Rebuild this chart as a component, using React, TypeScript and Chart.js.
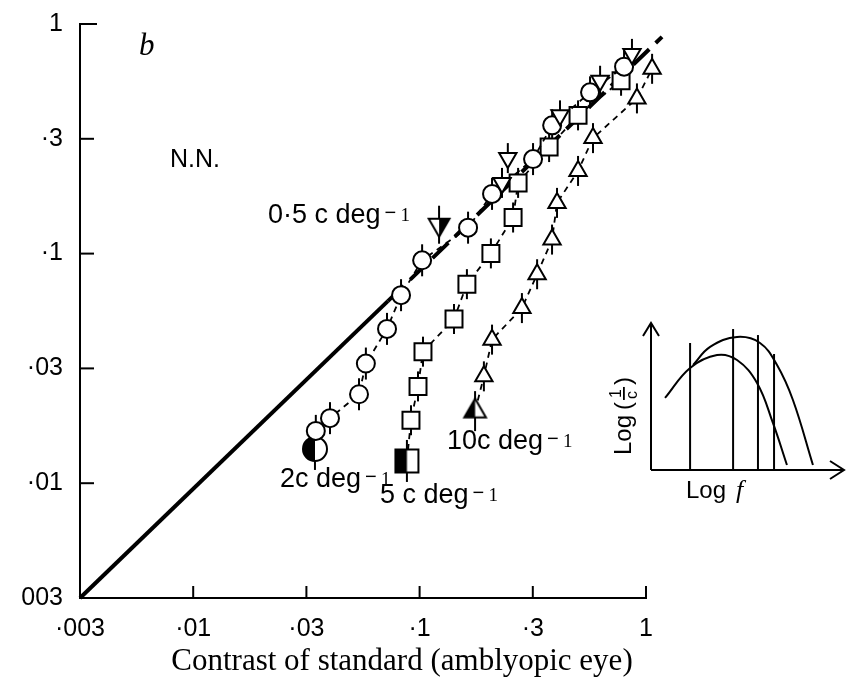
import React, { useEffect, useRef } from 'react';
import { Chart, registerables } from 'chart.js';

Chart.register(...registerables);

// ---------- axes (ticks are evenly spaced half-decades in the original) ----------
const tickValues = [0.0031623, 0.01, 0.031623, 0.1, 0.31623, 1];
const xTickLabels = ['·003', '·01', '·03', '·1', '·3', '1'];
const yTickLabels = ['003', '·01', '·03', '·1', '·3', '1'];
const xAxisTitle = 'Contrast of standard (amblyopic eye)';

// ---------- data ----------
// 2 c deg-1 (circles); first point = half-filled marker
const c2X = [0.0345, 0.0348, 0.0402, 0.054, 0.0579, 0.0718, 0.0828, 0.1026, 0.1637, 0.2089, 0.317, 0.385, 0.566, 0.8];
const c2Y = [0.0141, 0.0169, 0.0192, 0.0244, 0.0332, 0.047, 0.0659, 0.0935, 0.1297, 0.182, 0.258, 0.362, 0.504, 0.652];
// 5 c deg-1 (squares)
const c5X = [0.0879, 0.0916, 0.0984, 0.1035, 0.1419, 0.1618, 0.2065, 0.2588, 0.2723, 0.3733, 0.501, 0.776];
const c5Y = [0.0125, 0.0188, 0.0264, 0.0374, 0.0519, 0.0736, 0.1002, 0.1436, 0.2032, 0.2911, 0.4, 0.566];
// 10 c deg-1 (up triangles)
const c10X = [0.1758, 0.1923, 0.2089, 0.2831, 0.3304, 0.3846, 0.4046, 0.501, 0.5834, 0.912, 1.064];
const c10Y = [0.0206, 0.0292, 0.0422, 0.0579, 0.0813, 0.1151, 0.1663, 0.2291, 0.3184, 0.4742, 0.638];
// 0.5 c deg-1 (down triangles)
const c05X = [0.1219, 0.2312, 0.2453, 0.417, 0.627, 0.867];
const c05Y = [0.1336, 0.2032, 0.2606, 0.4, 0.566, 0.741];
// thick matching line (solid part then broken part)
const matchX = [0.0031623, 0.0724, 1.177];
const matchY = [0.0031623, 0.0621, 0.879];

// ---------- inset schematic ----------
const insetLowX = [0.75, 2.09, 3.53, 4.6, 5.67, 6.52, 7.27];
const insetLowY = [4.9, 6.94, 7.82, 7.48, 5.92, 3.2, 0.34];
const insetHighX = [2.25, 3.16, 4.6, 5.83, 6.74, 7.59, 8.66];
const insetHighY = [7.14, 8.37, 9.05, 8.64, 7.14, 4.76, 0.34];
const insetBarX = [2.09, 4.39, 5.72, 6.58];
const insetBarTop = [8.64, 9.59, 9.18, 7.89];

const SANS = '"Liberation Sans", Arial, sans-serif';
const SERIF = '"Liberation Serif", "Times New Roman", serif';

const pts = (xs: number[], ys: number[]) => xs.map((x, i) => ({ x, y: ys[i] }));

function makeMarker(shape: 'circle' | 'square' | 'up', size: number) {
  const pad = 3;
  const s = Math.ceil(size * 2 + pad * 2);
  const c = document.createElement('canvas');
  c.width = s;
  c.height = s;
  const g = c.getContext('2d')!;
  const cx = s / 2;
  const cy = s / 2;
  const path = () => {
    g.beginPath();
    if (shape === 'circle') g.arc(cx, cy, size, 0, Math.PI * 2);
    else if (shape === 'square') g.rect(cx - size, cy - size, size * 2, size * 2);
    else {
      const h = Math.sin((2 * Math.PI) / 3) * size;
      g.moveTo(cx, cy - size);
      g.lineTo(cx + h, cy + size / 2);
      g.lineTo(cx - h, cy + size / 2);
      g.closePath();
    }
  };
  path();
  g.fillStyle = '#fff';
  g.fill();
  g.save();
  path();
  g.clip();
  g.fillStyle = '#000';
  g.fillRect(0, 0, cx, s);
  g.restore();
  path();
  g.lineWidth = 2;
  g.strokeStyle = '#000';
  g.stroke();
  return c;
}

const errorBarPlugin = {
  id: 'errorBars',
  beforeDatasetsDraw(chart: any) {
    const ctx = chart.ctx;
    chart.data.datasets.forEach((ds: any, i: number) => {
      if (!ds.errLen) return;
      const meta = chart.getDatasetMeta(i);
      ctx.save();
      ctx.strokeStyle = '#000';
      ctx.lineWidth = 2;
      meta.data.forEach((p: any, j: number) => {
        const len = j === 0 && ds.errLenFirst ? ds.errLenFirst : ds.errLen;
        ctx.beginPath();
        ctx.moveTo(p.x, p.y - len);
        ctx.lineTo(p.x, p.y + len);
        ctx.stroke();
      });
      ctx.restore();
    });
  },
};

const axisTickPlugin = {
  id: 'inwardTicks',
  afterDraw(chart: any) {
    const ctx = chart.ctx;
    const { left, bottom } = chart.chartArea;
    const xs = chart.scales.x;
    const ys = chart.scales.y;
    ctx.save();
    ctx.strokeStyle = '#000';
    ctx.lineWidth = 2;
    tickValues.forEach((v) => {
      const px = xs.getPixelForValue(v);
      ctx.beginPath();
      ctx.moveTo(px, bottom);
      ctx.lineTo(px, bottom - 12);
      ctx.stroke();
      const py = ys.getPixelForValue(v);
      ctx.beginPath();
      ctx.moveTo(left, py);
      ctx.lineTo(left + (v === 1 ? 17 : 14), py);
      ctx.stroke();
    });
    ctx.restore();
  },
};

function drawDeg(ctx: CanvasRenderingContext2D, main: string, x: number, y: number) {
  ctx.font = `27px ${SANS}`;
  ctx.fillText(main, x, y);
  const w = ctx.measureText(main).width;
  ctx.font = `20px ${SANS}`;
  ctx.fillText('−', x + w + 4, y - 4);
  ctx.font = `19px ${SERIF}`;
  ctx.fillText('1', x + w + 20, y - 2);
}

const annotationPlugin = {
  id: 'annotations',
  afterDraw(chart: any) {
    const ctx: CanvasRenderingContext2D = chart.ctx;
    ctx.save();
    ctx.fillStyle = '#000';
    ctx.textAlign = 'left';
    ctx.textBaseline = 'alphabetic';
    ctx.font = `italic 31px ${SERIF}`;
    ctx.fillText('b', 139, 55);
    ctx.font = `25px ${SANS}`;
    ctx.fillText('N.N.', 170, 167);
    drawDeg(ctx, '0·5 c deg', 268, 223);
    drawDeg(ctx, '2c deg', 280, 487);
    drawDeg(ctx, '5 c deg', 380, 503);
    drawDeg(ctx, '10c deg', 447, 449);
    ctx.textAlign = 'center';
    ctx.font = `31px ${SERIF}`;
    ctx.fillText(xAxisTitle, 402, 670);
    ctx.restore();
  },
};

const insetPlugin = {
  id: 'insetDecor',
  afterDraw(chart: any) {
    const ctx: CanvasRenderingContext2D = chart.ctx;
    const { left, right, top, bottom } = chart.chartArea;
    ctx.save();
    ctx.strokeStyle = '#000';
    ctx.fillStyle = '#000';
    ctx.lineWidth = 2;
    ctx.lineJoin = 'miter';
    // vertical arrow
    ctx.beginPath();
    ctx.moveTo(left, bottom);
    ctx.lineTo(left, top);
    ctx.moveTo(left - 8, top + 13);
    ctx.lineTo(left, top);
    ctx.lineTo(left + 8, top + 13);
    ctx.stroke();
    // horizontal arrow
    ctx.beginPath();
    ctx.moveTo(left, bottom);
    ctx.lineTo(right + 6, bottom);
    ctx.moveTo(right - 8, bottom - 9);
    ctx.lineTo(right + 6, bottom);
    ctx.lineTo(right - 8, bottom + 9);
    ctx.stroke();
    // Log f
    ctx.textBaseline = 'alphabetic';
    ctx.textAlign = 'left';
    ctx.font = `24px ${SANS}`;
    ctx.fillText('Log', 86, 198);
    ctx.font = `italic 26px ${SERIF}`;
    ctx.fillText('f', 136, 198);
    // Log (1/c) rotated
    ctx.translate(31, 155);
    ctx.rotate(-Math.PI / 2);
    ctx.font = `24px ${SANS}`;
    ctx.fillText('Log', 0, 0);
    let w = ctx.measureText('Log').width + 5;
    ctx.fillText('(', w, 0);
    w += ctx.measureText('(').width + 2;
    ctx.font = `16px ${SANS}`;
    ctx.fillText('1', w + 2, -10);
    ctx.fillRect(w, -8, 13, 1.8);
    ctx.fillText('c', w + 1, 6);
    w += 15;
    ctx.font = `24px ${SANS}`;
    ctx.fillText(')', w, 0);
    ctx.restore();
  },
};

export default function App() {
  const mainRef = useRef<HTMLCanvasElement>(null);
  const insetRef = useRef<HTMLCanvasElement>(null);

  useEffect(() => {
    const halfCircle = makeMarker('circle', 12);
    const halfSquare = makeMarker('square', 11.5);
    const halfUp = makeMarker('up', 12.5);
    const halfDown = makeMarker('up', 12);
    // rotate a copy for the filled down-triangle
    const down = document.createElement('canvas');
    down.width = halfDown.width;
    down.height = halfDown.height;
    const dg = down.getContext('2d')!;
    dg.translate(down.width, down.height);
    dg.rotate(Math.PI);
    dg.drawImage(halfDown, 0, 0);

    const tickFont = { family: SANS, size: 25 };
    const common = {
      borderColor: '#000',
      pointBorderColor: '#000',
      pointBackgroundColor: '#fff',
      pointBorderWidth: 2,
      clip: false as any,
      order: 1,
    };

    const main = new Chart(mainRef.current!, {
      type: 'line',
      data: {
        datasets: [
          {
            label: 'equal contrast',
            data: pts(matchX.slice(0, 2), matchY.slice(0, 2)),
            borderColor: '#000',
            borderWidth: 4,
            pointRadius: 0,
            clip: false as any,
            order: 9,
          },
          {
            label: 'equal contrast (broken)',
            data: pts(matchX.slice(1), matchY.slice(1)),
            borderColor: '#000',
            borderWidth: 4,
            borderDash: [22, 9],
            pointRadius: 0,
            clip: false as any,
            order: 9,
          },
          {
            ...common,
            label: '0·5 c deg⁻¹',
            data: pts(c05X, c05Y),
            showLine: false,
            pointStyle: (c: any) => (c.dataIndex === 0 ? down : 'triangle'),
            pointRotation: (c: any) => (c.dataIndex === 0 ? 0 : 180),
            pointRadius: 10,
            errLen: 15,
            errLenFirst: 19,
          } as any,
          {
            ...common,
            label: '2 c deg⁻¹',
            data: pts(c2X, c2Y),
            borderWidth: 1.8,
            borderDash: [6, 5],
            pointStyle: (c: any) => (c.dataIndex === 0 ? halfCircle : 'circle'),
            pointRadius: 9,
            errLen: 16,
            errLenFirst: 21,
          } as any,
          {
            ...common,
            label: '5 c deg⁻¹',
            data: pts(c5X, c5Y),
            borderWidth: 1.8,
            borderDash: [6, 5],
            pointStyle: (c: any) => (c.dataIndex === 0 ? halfSquare : 'rect'),
            pointRadius: 12,
            errLen: 15,
            errLenFirst: 21,
          } as any,
          {
            ...common,
            label: '10 c deg⁻¹',
            data: pts(c10X, c10Y),
            borderWidth: 1.8,
            borderDash: [6, 5],
            pointStyle: (c: any) => (c.dataIndex === 0 ? halfUp : 'triangle'),
            pointRadius: 10,
            errLen: 15,
            errLenFirst: 20,
          } as any,
        ],
      },
      options: {
        responsive: false,
        animation: false,
        layout: { padding: { top: 20, right: 201, left: 0, bottom: 0 } },
        plugins: { legend: { display: false }, tooltip: { enabled: false } },
        scales: {
          x: {
            type: 'logarithmic',
            min: tickValues[0],
            max: 1,
            afterBuildTicks: (s: any) => {
              s.ticks = tickValues.map((v) => ({ value: v }));
            },
            afterFit: (s: any) => {
              s.height = 86;
            },
            ticks: {
              autoSkip: false,
              maxRotation: 0,
              padding: 8,
              color: '#000',
              font: tickFont,
              callback: (_v: any, i: number) => xTickLabels[i],
            },
            grid: { display: false },
            border: { display: true, color: '#000', width: 2 },
          },
          y: {
            type: 'logarithmic',
            min: tickValues[0],
            max: 1,
            afterBuildTicks: (s: any) => {
              s.ticks = tickValues.map((v) => ({ value: v }));
            },
            afterFit: (s: any) => {
              s.width = 80;
            },
            ticks: {
              autoSkip: false,
              padding: 9,
              color: '#000',
              font: tickFont,
              callback: (_v: any, i: number) => yTickLabels[i],
            },
            grid: { display: false },
            border: { display: true, color: '#000', width: 2 },
          },
        },
      } as any,
      plugins: [errorBarPlugin, axisTickPlugin, annotationPlugin],
    });

    const insetLine = {
      borderColor: '#000',
      borderWidth: 2,
      pointRadius: 0,
      clip: false as any,
    };
    const inset = new Chart(insetRef.current!, {
      type: 'line',
      data: {
        datasets: [
          { ...insetLine, label: 'low', data: pts(insetLowX, insetLowY), tension: 0.4 },
          { ...insetLine, label: 'high', data: pts(insetHighX, insetHighY), tension: 0.4 },
          ...insetBarX.map((bx, i) => ({
            ...insetLine,
            label: 'f' + i,
            data: [
              { x: bx, y: 0 },
              { x: bx, y: insetBarTop[i] },
            ],
            tension: 0,
          })),
        ],
      },
      options: {
        responsive: false,
        animation: false,
        layout: { padding: { left: 51, top: 23, right: 9, bottom: 40 } },
        plugins: { legend: { display: false }, tooltip: { enabled: false } },
        scales: {
          x: { type: 'linear', min: 0, max: 10, display: false },
          y: { type: 'linear', min: 0, max: 10, display: false },
        },
      } as any,
      plugins: [insetPlugin],
    });

    return () => {
      main.destroy();
      inset.destroy();
    };
  }, []);

  return (
    <div style={{ position: 'absolute', left: 0, top: 0, width: 847, height: 684, background: '#fff' }}>
      <canvas ref={mainRef} width={847} height={684} style={{ position: 'absolute', left: 0, top: 0 }} />
      <canvas ref={insetRef} width={247} height={210} style={{ position: 'absolute', left: 600, top: 300 }} />
    </div>
  );
}
